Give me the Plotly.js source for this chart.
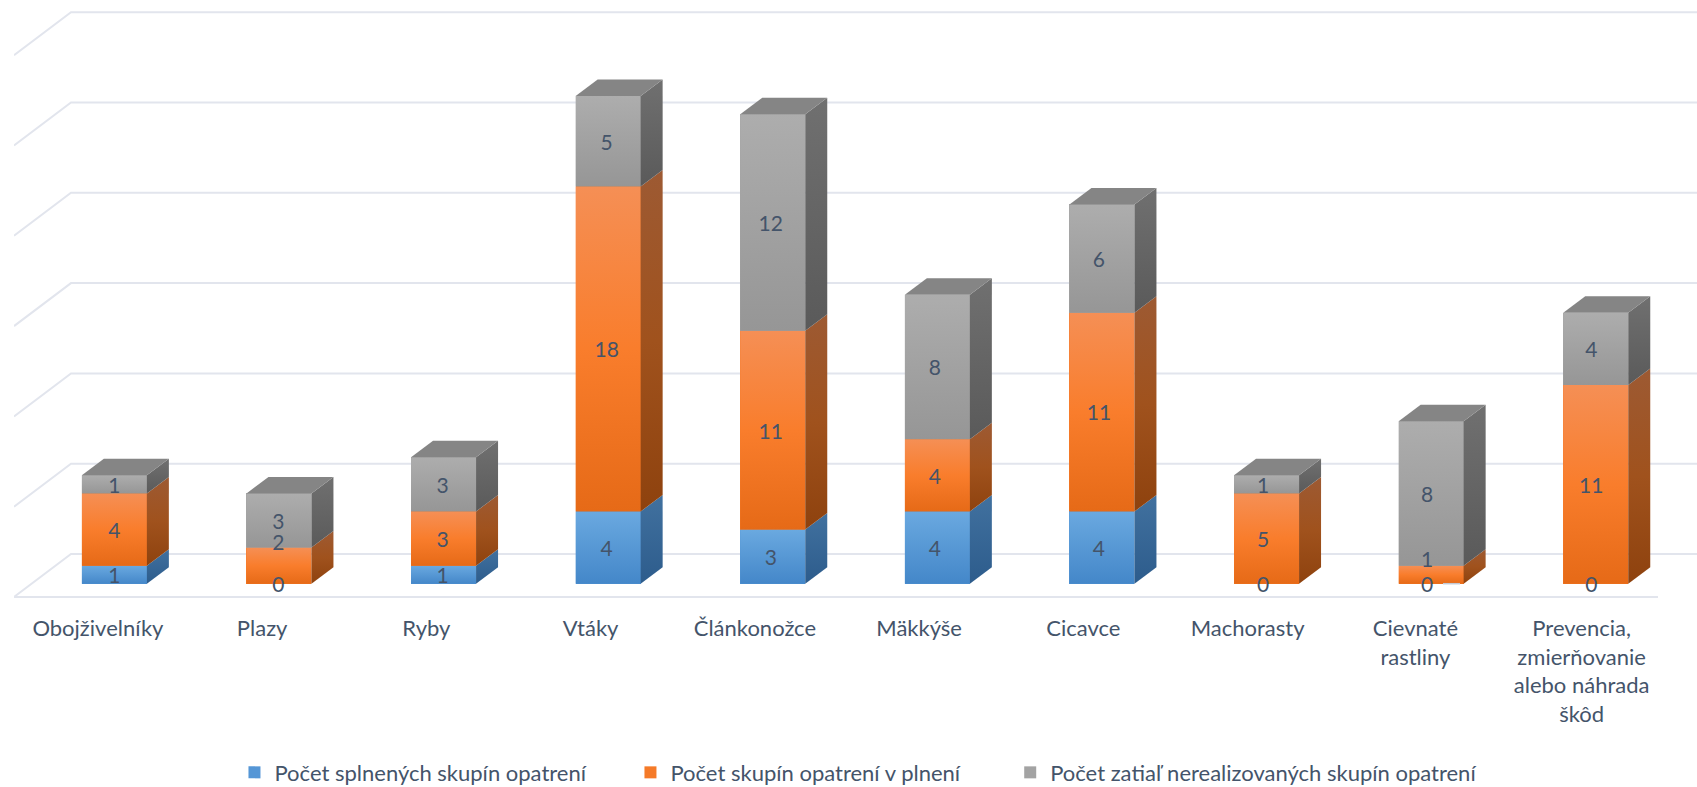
<!DOCTYPE html>
<html><head><meta charset="utf-8">
<script src="https://cdn.plot.ly/plotly-3.0.1.min.js"></script>
<style>html,body{margin:0;padding:0;background:#fff}#c{width:1697px;height:787px}</style>
</head><body><div id="c"></div>
<script>
const categories = ["Obojživelníky","Plazy","Ryby","Vtáky","Článkonožce","Mäkkýše","Cicavce","Machorasty","Cievnaté<br>rastliny","Prevencia,<br>zmierňovanie<br>alebo náhrada<br>škôd"];
const done = [1,0,1,4,3,4,4,0,0,0];
const inProgress = [4,2,3,18,11,4,11,5,1,11];
const notStarted = [1,3,3,5,12,8,6,1,8,4];
const seriesNames = ["Počet splnených skupín opatrení","Počet skupín opatrení v plnení","Počet zatiaľ nerealizovaných skupín opatrení"];
const gridValues = [0,5,10,15,20,25,30];

// style
const textColor = "#44546a", gridColor = "#e2e5ed", fontFam = "Lato, Carlito, sans-serif";
const styles = [
 {base:"#5596d6", front:["#4487c9","#6aa9e0"], side:["#2d5c8c","#41719f"]},
 {base:"#f57a28", front:["#e66a17","#f97d2c","#f58f55"], side:["#8e420e","#a0521d","#9d5a33"]},
 {base:"#a3a3a3", front:["#969696","#adadad"], side:["#5a5a5a","#707070"]}
];
const topColor = "#858585";
// scales
const pxPerCat = 164.6, pxPerUnit = 18.06, x0 = 114.35, y0 = 583.7;
const L = 14, R = 1697, T = 5, B = 600;
const barW = 65/pxPerCat, dx = 22/pxPerCat, dy = 16.5/pxPerUnit;
const wallDx = 57/pxPerCat, wallDy = 43/pxPerUnit;   // grid wall depth
const backY = 29.7/pxPerUnit, leftX = (L-x0)/pxPerCat;
const labelNudge = {1:{1:1.3}, 8:{1:0.9}};
const tickNudgePx = {8:3.5, 9:5.5};
const legendPads = [7,8,0];

function scale(stops){return stops.map((c,i)=>[i/(stops.length-1),c]);}
const series = [done,inProgress,notStarted];
const idx = categories.map((_,i)=>i);
const traces = [];
series.forEach((vals,s)=>traces.push({type:"bar",x:idx,y:vals,name:seriesNames[s]+"\u00a0".repeat(legendPads[s]),width:barW,
  marker:{color:styles[s].base,line:{width:0}},hoverinfo:"y+name"}));
function poly(xs,ys,fillProps){traces.push(Object.assign({type:"scatter",mode:"lines",x:xs,y:ys,line:{width:0},fill:"toself",showlegend:false,hoverinfo:"skip"},fillProps));}
idx.forEach(i=>{
  let b=0; const l=i-barW/2, r=i+barW/2;
  series.forEach((vals,s)=>{
    const v=vals[i];
    if(v>0){
      poly([l,r,r,l,l],[b,b,b+v,b+v,b],{fillgradient:{type:"vertical",colorscale:scale(styles[s].front)}});
      poly([r,r+dx,r+dx,r,r],[b,b+dy,b+v+dy,b+v,b],{fillgradient:{type:"vertical",colorscale:scale(styles[s].side)}});
    }
    b+=v;
  });
  poly([l,r,r+dx,l+dx,l],[b,b,b+dy,b+dy,b],{fillcolor:topColor});
});
// data labels
series.forEach((vals,s)=>{
  let xs=[],ys=[],ts=[];
  vals.forEach((v,i)=>{
    const b=series.slice(0,s).reduce((a,arr)=>a+arr[i],0);
    xs.push(i-0.5*i/pxPerCat);
    ys.push(b+v/2+((labelNudge[i]||{})[s]||0)-0.17); ts.push(String(v));
  });
  traces.push({type:"scatter",mode:"text",x:xs,y:ys,text:ts,textposition:"middle center",
    textfont:{family:fontFam,size:21,color:textColor},showlegend:false,hoverinfo:"skip"});
});
// wall grid
const shapes = gridValues.map(g=>({type:"path",layer:"below",xref:"x",yref:"y",
  path:`M${leftX},${g+backY-wallDy}L${leftX+wallDx},${g+backY}L${(R-x0)/pxPerCat},${g+backY}`,
  line:{color:gridColor,width:2}}));
shapes.push({type:"line",layer:"below",xref:"x",yref:"y",x0:leftX,x1:(1658-x0)/pxPerCat,y0:backY-wallDy,y1:backY-wallDy,line:{color:gridColor,width:2}});
shapes.push({type:"line",layer:"above",xref:"x",yref:"y",x0:(1443-x0)/pxPerCat,x1:(1460-x0)/pxPerCat,y0:0,y1:0,line:{color:"#c3c9d4",width:1.5}});

const layout = {
  width:1697,height:787,barmode:"stack",paper_bgcolor:"#fff",plot_bgcolor:"#fff",
  margin:{l:L,r:1697-R,t:T,b:787-B,autoexpand:false},
  font:{family:fontFam,color:textColor},
  xaxis:{range:[leftX,(R-x0)/pxPerCat],showgrid:false,zeroline:false,showline:false,ticks:"",
    tickmode:"array",tickvals:idx.map(i=>i-0.1+((tickNudgePx[i]||0)-0.35*i)/pxPerCat),ticktext:categories,
    tickfont:{family:fontFam,size:22,color:textColor},tickangle:0,automargin:false,ticklabelstandoff:13},
  yaxis:{range:[(y0-B)/pxPerUnit,(y0-T)/pxPerUnit],showgrid:false,zeroline:false,showline:false,showticklabels:false,ticks:"",automargin:false},
  showlegend:true,
  legend:{orientation:"h",x:0.131,xanchor:"left",y:-0.29,yanchor:"middle",font:{family:fontFam,size:22,color:textColor},traceorder:"normal"},
  shapes:shapes
};
Plotly.newPlot("c",traces,layout,{displayModeBar:false,staticPlot:true});
</script></body></html>
